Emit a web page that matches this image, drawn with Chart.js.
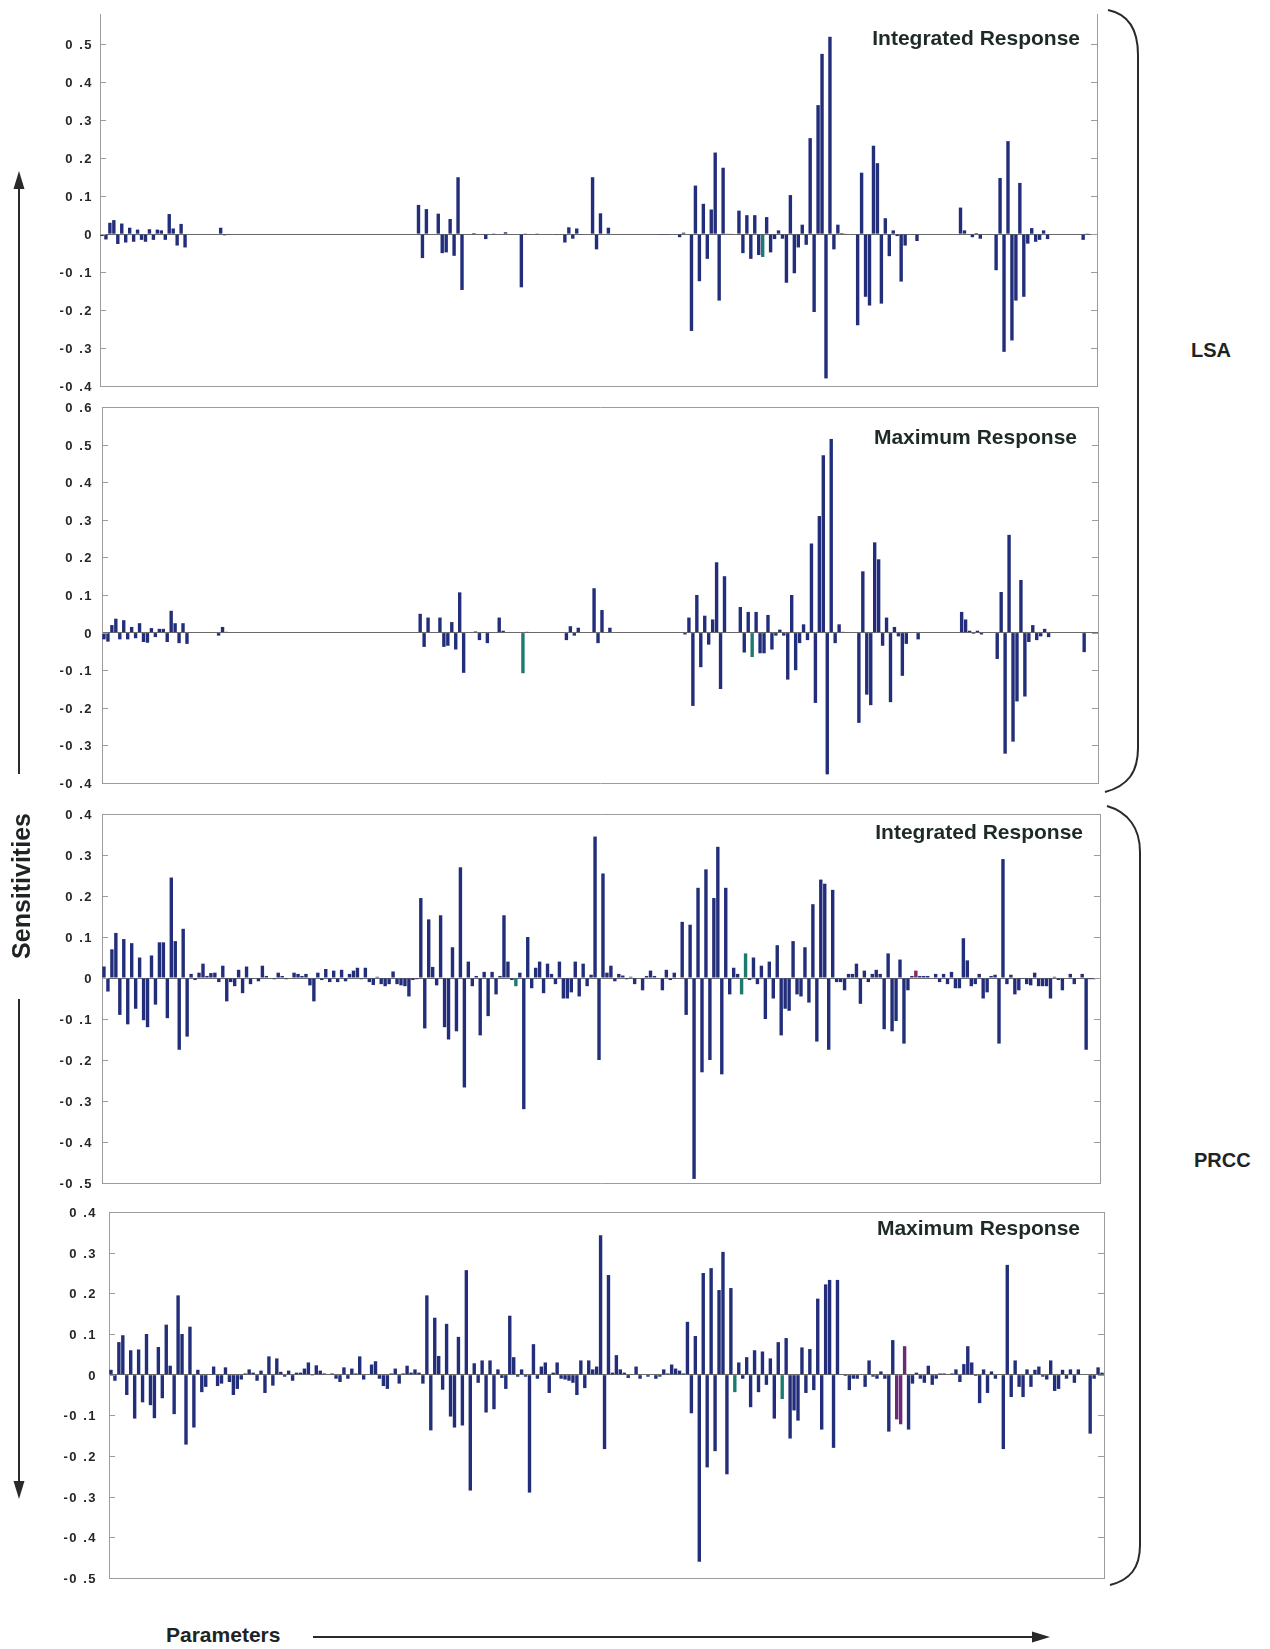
<!DOCTYPE html>
<html>
<head>
<meta charset="utf-8">
<title>Sensitivities: LSA / PRCC</title>
<script src="https://cdn.jsdelivr.net/npm/chart.js@4/dist/chart.umd.min.js"></script>
<style>
body { margin: 0; background: #fff; }
#page { position: relative; width: 1270px; height: 1649px; overflow: hidden; font-family: "Liberation Sans", Arial, sans-serif; }
#page canvas { position: absolute; left: 0; }
.title { position: absolute; font-weight: bold; font-size: 21px; line-height: 24px; color: #1e2a28; white-space: nowrap; text-align: right; }
.side { position: absolute; font-weight: bold; font-size: 20px; line-height: 24px; color: #1e2424; white-space: nowrap; }
#deco { position: absolute; left: 0; top: 0; }
</style>
</head>
<body>
<div id="page">
  <canvas id="c1"></canvas>
  <canvas id="c2"></canvas>
  <canvas id="c3"></canvas>
  <canvas id="c4"></canvas>

  <div class="title" style="right:190px; top:26px;">Integrated Response</div>
  <div class="title" style="right:193px; top:425px;">Maximum Response</div>
  <div class="title" style="right:187px; top:820px;">Integrated Response</div>
  <div class="title" style="right:190px; top:1216px;">Maximum Response</div>

  <div class="side" style="left:1191px; top:338px;">LSA</div>
  <div class="side" style="left:1194px; top:1148px;">PRCC</div>
  <div class="side" style="left:-55px; top:873px; width:152px; text-align:center; font-size:25px; line-height:26px; transform:rotate(-90deg);">Sensitivities</div>
  <div class="side" style="left:166px; top:1623px; font-size:21px;">Parameters</div>

  <svg id="deco" width="1270" height="1649">
    <g stroke="#2a2a2a" stroke-width="2" fill="none">
      <path d="M1108 10 C1128 14 1138 30 1138 55 L1138 748 C1138 772 1128 786 1105 792"/>
      <path d="M1107 806 C1128 812 1140 828 1140 852 L1140 1545 C1140 1568 1130 1580 1110 1585"/>
      <line x1="19" y1="774" x2="19" y2="186"/>
      <line x1="19" y1="999" x2="19" y2="1484"/>
      <line x1="313" y1="1637" x2="1035" y2="1637"/>
    </g>
    <g fill="#2a2a2a">
      <polygon points="19,171 13.5,189 24.5,189"/>
      <polygon points="19,1499 13.5,1481 24.5,1481"/>
      <polygon points="1050,1637 1032,1631.5 1032,1642.5"/>
    </g>
  </svg>
</div>

<script>
// sensitivities per parameter (252 parameters, left to right)
var lsaIntegrated = [
  -0.005, -0.014, 0.03, 0.037, -0.026, 0.028, -0.022, 0.017, -0.02, 0.012, -0.015, -0.02,
  0.013, -0.015, 0.012, 0.01, -0.015, 0.053, 0.015, -0.03, 0.027, -0.035, 0, 0,
  0, 0, 0, 0, 0, 0, 0.017, -0.003, -0.002, 0, 0, 0,
  0, 0, 0, 0, 0, 0, 0, 0, 0, 0, 0, 0,
  0, 0, 0, 0, 0, 0, 0, 0, 0, 0, 0, 0,
  0, 0, 0, 0, 0, 0, 0, 0, 0, 0, 0, 0,
  0, 0, 0, 0, 0, 0, 0, 0, 0.077, -0.063, 0.066, 0,
  0, 0.054, -0.05, -0.048, 0.04, -0.057, 0.15, -0.147, 0, 0, 0.003, 0,
  0, -0.013, 0, 0.002, 0, 0, 0.005, 0, 0, 0, -0.14, 0.002,
  0, 0, 0.002, 0, 0, 0, 0, -0.002, 0, -0.022, 0.018, -0.012,
  0.015, -0.002, 0, 0, 0.15, -0.04, 0.055, 0, 0.017, 0, 0, 0,
  0, 0, 0, 0, 0, 0, 0, 0, 0, -0.002, -0.002, -0.002,
  0, 0, -0.008, 0.004, 0, -0.255, 0.128, -0.124, 0.08, -0.065, 0.065, 0.215,
  -0.175, 0.175, 0.001, 0.001, 0, 0.062, -0.05, 0.05, -0.065, 0.05, -0.055, -0.06,
  0.045, -0.048, -0.013, 0.01, -0.012, -0.128, 0.103, -0.103, -0.035, 0.025, -0.028, 0.253,
  -0.205, 0.34, 0.475, -0.38, 0.52, -0.04, 0.025, 0.003, 0.001, 0, 0, -0.24,
  0.162, -0.165, -0.188, 0.233, 0.187, -0.183, 0.042, -0.058, 0.01, -0.005, -0.125, -0.03,
  0, 0, -0.018, 0, 0, 0, 0, 0, 0, 0, 0, 0,
  0, 0.07, 0.01, 0, -0.008, 0.003, -0.012, 0, 0, 0, -0.095, 0.148,
  -0.31, 0.245, -0.28, -0.175, 0.135, -0.165, -0.025, 0.016, -0.02, -0.015, 0.01, -0.013,
  0, 0, 0, 0, 0, 0, 0, 0, -0.015, 0.002, -0.002, 0
];

var lsaMaximum = [
  -0.018, -0.024, 0.02, 0.037, -0.018, 0.033, -0.018, 0.015, -0.015, 0.025, -0.025, -0.027,
  0.012, -0.012, 0.01, 0.01, -0.025, 0.058, 0.025, -0.028, 0.025, -0.03, 0, 0,
  0, 0, 0, 0, 0, -0.008, 0.015, 0.002, 0, 0, 0, 0,
  0, 0, 0, 0, 0, 0, 0, 0, 0, 0, 0, 0,
  0, 0, 0, 0, 0, 0, 0, 0, 0, 0, 0, 0,
  0, 0, 0, 0, 0, 0, 0, 0, 0, 0, 0, 0,
  0, 0, 0, 0, 0, 0, 0, 0, 0.05, -0.038, 0.04, 0,
  0, 0.04, -0.038, -0.035, 0.028, -0.045, 0.107, -0.107, 0, 0, 0.003, -0.02,
  0, -0.028, 0, 0, 0.04, 0.005, 0, 0, 0, 0, -0.108, 0.002,
  0, 0, 0, 0, 0, 0, 0, 0, 0, -0.02, 0.017, -0.008,
  0.013, 0, 0, 0, 0.118, -0.028, 0.06, 0, 0.013, 0, 0, 0,
  0, 0, 0, 0, 0, 0, 0, 0, 0, 0, 0, 0,
  0, 0, 0, -0.005, 0.04, -0.195, 0.1, -0.092, 0.045, -0.032, 0.035, 0.187,
  -0.15, 0.15, 0.001, 0.001, 0, 0.068, -0.053, 0.055, -0.065, 0.055, -0.055, -0.055,
  0.047, -0.045, -0.008, 0.008, -0.008, -0.125, 0.1, -0.1, -0.028, 0.022, -0.02, 0.237,
  -0.187, 0.31, 0.472, -0.377, 0.515, -0.028, 0.022, 0.002, 0.001, 0, 0, -0.24,
  0.163, -0.165, -0.193, 0.24, 0.195, -0.035, 0.04, -0.185, 0.015, -0.01, -0.115, -0.03,
  0, 0, -0.018, 0, 0, 0, 0, 0, 0, 0, 0, 0,
  0, 0.055, 0.035, 0.005, -0.003, 0.005, -0.005, 0, 0, 0, -0.07, 0.108,
  -0.322, 0.26, -0.29, -0.183, 0.14, -0.17, -0.025, 0.02, -0.02, -0.01, 0.01, -0.012,
  0, 0, 0, 0, 0, 0, 0, 0, -0.052, 0, 0, 0
];

var prccIntegrated = [
  0.028, -0.033, 0.07, 0.11, -0.09, 0.095, -0.113, 0.085, -0.075, 0.05, -0.103, -0.12,
  0.055, -0.065, 0.087, 0.087, -0.098, 0.245, 0.09, -0.175, 0.12, -0.143, 0.01, -0.005,
  0.013, 0.035, 0.005, 0.012, 0.013, -0.01, 0.03, -0.057, -0.01, -0.02, 0.02, -0.037,
  0.028, -0.015, 0, -0.008, 0.03, 0.005, 0, -0.003, 0.013, 0.005, -0.003, 0,
  0.013, 0.01, 0.005, 0.01, -0.018, -0.057, 0.013, -0.005, 0.022, -0.01, 0.018, -0.01,
  0.02, -0.008, 0.01, 0.018, 0.025, -0.003, 0.025, -0.01, -0.017, 0.003, -0.015, -0.02,
  -0.015, 0.016, -0.015, -0.018, -0.02, -0.045, -0.005, -0.003, 0.195, -0.123, 0.143, 0.027,
  -0.018, 0.153, -0.12, -0.15, 0.075, -0.13, 0.27, -0.267, 0.04, -0.02, 0.005, -0.14,
  0.015, -0.093, 0.015, -0.04, 0.005, 0.153, 0.04, -0.005, -0.02, 0.013, -0.32, 0.1,
  -0.025, 0.025, 0.04, -0.037, 0.035, 0.01, -0.015, 0.04, -0.05, -0.05, -0.035, 0.04,
  -0.045, 0.035, -0.02, 0.008, 0.345, -0.2, 0.255, 0.013, 0.03, -0.008, 0.01, 0.006,
  -0.003, 0.003, -0.015, 0, -0.03, 0.005, 0.018, 0.005, 0, -0.03, 0.02, -0.005,
  0.013, 0, 0.137, -0.09, 0.13, -0.49, 0.22, -0.23, 0.265, -0.2, 0.195, 0.32,
  -0.235, 0.22, -0.04, 0.025, 0.01, -0.04, 0.06, -0.005, 0.05, -0.015, 0.03, -0.1,
  0.04, -0.05, 0.08, -0.14, -0.075, -0.08, 0.09, -0.04, -0.045, 0.075, -0.06, 0.18,
  -0.155, 0.24, 0.23, -0.175, 0.215, -0.01, -0.01, -0.03, 0.01, 0.01, 0.035, -0.063,
  0.018, -0.01, 0.01, 0.02, 0.01, -0.125, 0.06, -0.13, -0.105, 0.045, -0.16, -0.03,
  0.005, 0.018, 0.005, 0.005, 0.005, 0, 0.01, -0.01, 0.01, -0.015, 0.015, -0.025,
  -0.025, 0.097, 0.043, -0.02, -0.015, 0.01, -0.05, -0.035, 0.005, 0.008, -0.16, 0.29,
  -0.015, 0.008, -0.04, -0.03, -0.002, -0.015, -0.018, 0.013, -0.02, -0.02, -0.02, -0.05,
  0.003, -0.005, -0.03, 0, 0.01, -0.015, 0, 0.01, -0.175, -0.003, -0.003, 0
];

var prccMaximum = [
  0.012, -0.015, 0.08, 0.097, -0.05, 0.06, -0.108, 0.062, -0.068, 0.1, -0.075, -0.107,
  0.068, -0.058, 0.123, 0.022, -0.097, 0.195, 0.1, -0.172, 0.118, -0.13, 0.012, -0.043,
  -0.03, 0, 0.02, -0.028, -0.022, 0.018, -0.018, -0.05, -0.035, -0.012, 0.003, 0.013,
  0.005, -0.015, 0.01, -0.045, 0.045, -0.027, 0.04, 0.007, -0.005, 0.01, -0.015, 0.005,
  0.005, 0.015, 0.03, -0.002, 0.023, 0.01, 0.003, 0, 0.003, -0.01, -0.018, 0.018,
  -0.01, 0.015, 0.003, 0.045, -0.012, 0, 0.025, 0.033, -0.01, -0.028, -0.035, 0.003,
  0.015, -0.022, 0.003, 0.022, 0.005, 0.013, 0.005, -0.022, 0.195, -0.137, 0.14, 0.046,
  -0.037, 0.125, -0.103, -0.13, 0.093, -0.125, 0.257, -0.285, 0.028, -0.02, 0.035, -0.093,
  0.035, -0.085, 0.013, -0.008, -0.035, 0.145, 0.043, -0.005, 0.013, -0.005, -0.29, 0.075,
  -0.01, 0.02, 0.03, -0.045, 0.005, 0.03, -0.01, -0.012, -0.015, -0.02, -0.05, 0.035,
  -0.033, 0.035, 0.013, 0.02, 0.343, -0.183, 0.245, 0.005, 0.048, 0.013, 0.005, -0.008,
  0, 0.02, -0.01, 0, -0.005, 0, -0.01, -0.005, 0.013, 0.003, 0.025, 0.015,
  0.01, 0.003, 0.13, -0.095, 0.095, -0.46, 0.25, -0.228, 0.262, -0.188, 0.208, 0.302,
  -0.245, 0.213, -0.043, 0.03, -0.01, 0.043, -0.08, 0.06, -0.043, 0.057, -0.025, 0.04,
  -0.108, 0.08, -0.06, 0.09, -0.157, -0.088, -0.113, 0.067, -0.045, 0.063, -0.038, 0.187,
  -0.135, 0.222, 0.233, -0.18, 0.233, 0, -0.003, -0.038, -0.01, -0.01, 0, -0.03,
  0.035, -0.005, -0.01, 0.008, -0.01, -0.14, 0.085, -0.11, -0.122, 0.07, -0.135, -0.022,
  0.005, -0.01, -0.02, 0.022, -0.025, -0.01, 0.003, 0.003, 0, 0.003, 0.013, -0.018,
  0.026, 0.07, 0.03, -0.003, -0.07, 0.013, -0.045, 0.008, -0.01, 0, -0.183, 0.27,
  -0.055, 0.035, -0.03, -0.055, 0.013, -0.03, 0.012, 0.02, -0.005, -0.012, 0.035, -0.04,
  -0.035, 0.012, -0.01, 0.013, -0.02, 0.013, 0, 0, -0.145, -0.01, 0.018, 0.005
];

var params = lsaIntegrated.map(function (v, i) { return 'P' + (i + 1); });

var BAR_COLOR = '#232e7a';
var FRAME_COLOR = '#9c9c9c';
var ZERO_COLOR = '#6a6a6a';
var CANVAS_W = 1120;
var PAD = 12;

// a few bars in the original are drawn in other colours
var ACCENTS = {
  c1: { 167: '#1d7a6e' },
  c2: { 106: '#1d7a6e', 164: '#1d7a6e' },
  c3: { 104: '#1d7a6e', 161: '#1d7a6e', 162: '#1d7a6e', 205: '#8a2a5a' },
  c4: { 158: '#1d7a6e', 170: '#1d7a6e', 199: '#6a2a7a', 200: '#6a2a7a', 201: '#6a2a7a' }
};

// plot boxes in page pixels
var PANELS = [
  { id: 'c1', data: lsaIntegrated,  min: -0.4, max: 0.58, left: 100, right: 1097, top: 14,   bottom: 386,  topBorder: false, labelGap: 7 },
  { id: 'c2', data: lsaMaximum,     min: -0.4, max: 0.6,  left: 102, right: 1098, top: 407,  bottom: 783,  topBorder: true,  labelGap: 9 },
  { id: 'c3', data: prccIntegrated, min: -0.5, max: 0.4,  left: 102, right: 1100, top: 814,  bottom: 1183, topBorder: true,  labelGap: 9 },
  { id: 'c4', data: prccMaximum,    min: -0.5, max: 0.4,  left: 109, right: 1104, top: 1212, bottom: 1578, topBorder: true,  labelGap: 12 }
];

function fmtTick(v) {
  v = Math.round(v * 10) / 10;
  if (v === 0) return '0';
  return v.toFixed(1).replace('.', ' .');
}

// inward tick marks on both sides + spaced tick labels
function frameTicks(p) {
  return {
    id: 'frameTicks',
    afterDraw: function (chart) {
      var ctx = chart.ctx, y = chart.scales.y, a = chart.chartArea;
      ctx.save();
      ctx.strokeStyle = FRAME_COLOR;
      ctx.lineWidth = 1;
      ctx.fillStyle = '#262626';
      ctx.font = 'bold 13px "Liberation Sans", Arial, sans-serif';
      ctx.letterSpacing = '1.5px';
      ctx.textAlign = 'right';
      ctx.textBaseline = 'middle';
      y.ticks.forEach(function (t) {
        var py = Math.round(y.getPixelForValue(t.value)) + 0.5;
        ctx.beginPath();
        ctx.moveTo(a.left, py); ctx.lineTo(a.left + 6, py);
        ctx.moveTo(a.right - 6, py); ctx.lineTo(a.right, py);
        ctx.stroke();
        ctx.fillText(fmtTick(t.value), a.left - p.labelGap, py + 1);
      });
      ctx.restore();
    }
  };
}

function drawPanel(p) {
  var cv = document.getElementById(p.id);
  var h = Math.round(p.bottom - p.top + 2 * PAD);
  var accents = ACCENTS[p.id] || {};
  cv.width = CANVAS_W;
  cv.height = h;
  cv.style.top = (p.top - PAD) + 'px';

  new Chart(cv.getContext('2d'), {
    type: 'bar',
    data: {
      labels: params,
      datasets: [{
        data: p.data,
        backgroundColor: function (c) { return accents[c.dataIndex] || BAR_COLOR; },
        borderWidth: 0,
        barPercentage: 0.86,
        categoryPercentage: 1
      }]
    },
    options: {
      responsive: false,
      animation: false,
      devicePixelRatio: 1,
      layout: { padding: { top: PAD, bottom: PAD, left: 0, right: 0 } },
      plugins: { legend: { display: false }, tooltip: { enabled: false } },
      scales: {
        x: {
          position: 'bottom',
          ticks: { display: false },
          grid: { display: false, drawTicks: false },
          border: { display: true, color: FRAME_COLOR, width: 1 },
          afterFit: function (s) { s.height = 0; }
        },
        xTop: {
          type: 'category',
          position: 'top',
          labels: params,
          ticks: { display: false },
          grid: { display: false, drawTicks: false },
          border: { display: p.topBorder, color: FRAME_COLOR, width: 1 },
          afterFit: function (s) { s.height = 0; }
        },
        y: {
          position: 'left',
          min: p.min,
          max: p.max,
          ticks: { stepSize: 0.1, includeBounds: false, display: false },
          grid: {
            drawTicks: false,
            lineWidth: 1,
            color: function (c) { return Math.abs(c.tick.value) < 1e-9 ? ZERO_COLOR : 'rgba(0,0,0,0)'; }
          },
          border: { display: true, color: FRAME_COLOR, width: 1 },
          afterFit: function (s) { s.width = p.left; }
        },
        yRight: {
          type: 'linear',
          position: 'right',
          min: p.min,
          max: p.max,
          ticks: { display: false },
          grid: { display: false, drawTicks: false },
          border: { display: true, color: FRAME_COLOR, width: 1 },
          afterFit: function (s) { s.width = CANVAS_W - p.right; }
        }
      }
    },
    plugins: [frameTicks(p)]
  });
}

PANELS.forEach(drawPanel);
</script>
</body>
</html>
